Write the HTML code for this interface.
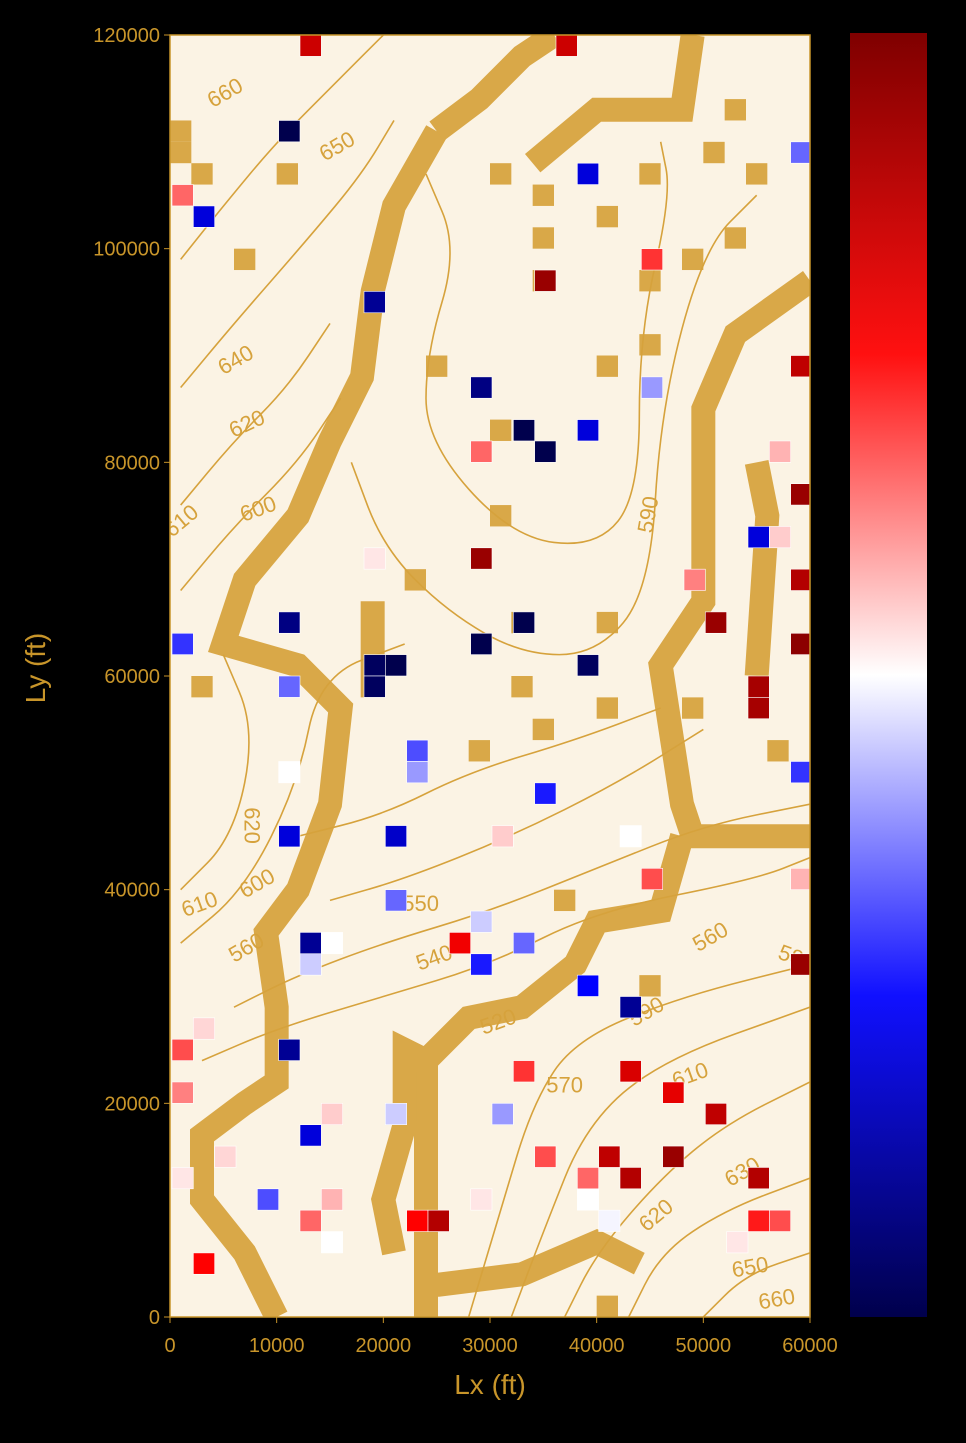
<!DOCTYPE html>
<html><head><meta charset="utf-8"><style>
html,body{margin:0;padding:0;background:#000;}
body{width:966px;height:1438px;overflow:hidden;font-family:"Liberation Sans",sans-serif;}
</style></head><body>
<svg id="chart" width="966" height="1438" xmlns="http://www.w3.org/2000/svg">
<defs>
<linearGradient id="cb" x1="0" y1="0" x2="0" y2="1">
<stop offset="0" stop-color="#7f0000"/><stop offset="0.25" stop-color="#ff1010"/>
<stop offset="0.5" stop-color="#ffffff"/><stop offset="0.75" stop-color="#1010ff"/>
<stop offset="1" stop-color="#00004c"/></linearGradient>
<clipPath id="plotclip"><rect x="170" y="35" width="640" height="1282"/></clipPath>
</defs>
<rect x="170" y="35" width="640" height="1282" fill="#fbf3e4"/>
<g id="mask" clip-path="url(#plotclip)"></g>
<g id="contours" clip-path="url(#plotclip)"></g>
<g id="cells" clip-path="url(#plotclip)"></g>
<rect x="170" y="35" width="640" height="1282" fill="none" stroke="#c8952a" stroke-width="1.5"/>
<g id="axes"></g>
<rect x="850" y="33" width="77" height="1284" fill="url(#cb)"/>
<text x="490" y="1394" fill="#c8952a" font-size="28" text-anchor="middle">Lx (ft)</text>
<text transform="translate(45,668) rotate(-90)" fill="#c8952a" font-size="28" text-anchor="middle">Ly (ft)</text>
</svg>
<script>
const cellX=[13000,37000,11000,59000,39000,1000,3000,45000,35000,19000,59000,29000,45000,33000,39000,35000,29000,57000,59000,55000,57000,19000,29000,49000,59000,11000,33000,51000,1000,29000,59000,19000,21000,39000,19000,11000,55000,55000,23000,23000,11000,59000,35000,11000,21000,31000,43000,45000,59000,21000,29000,27000,13000,15000,33000,13000,29000,59000,39000,43000,3000,1000,11000,33000,43000,47000,1000,51000,15000,21000,31000,13000,35000,41000,47000,5000,1000,39000,43000,55000,9000,15000,29000,39000,13000,23000,25000,41000,55000,57000,15000,53000,3000];
const cellY=[119000,119000,111000,109000,107000,105000,103000,99000,97000,95000,89000,87000,87000,83000,83000,81000,81000,81000,77000,73000,73000,71000,71000,69000,69000,65000,65000,65000,63000,63000,63000,61000,61000,61000,59000,59000,59000,57000,53000,51000,51000,51000,49000,45000,45000,45000,45000,41000,41000,39000,37000,35000,35000,35000,35000,33000,33000,33000,31000,29000,27000,25000,25000,23000,23000,21000,21000,19000,19000,19000,19000,17000,15000,15000,15000,15000,13000,13000,13000,13000,11000,11000,11000,11000,9000,9000,9000,9000,9000,9000,7000,7000,5000];
const cellV=[0.7,0.7,-1,-0.3,-0.6,0.3,-0.6,0.4,0.9,-0.8,0.75,-0.85,-0.2,-1,-0.6,-1,0.3,0.15,0.9,-0.6,0.1,0.05,0.9,0.25,0.8,-0.85,-1,0.9,-0.4,-1,0.95,-0.95,-1,-0.95,-0.95,-0.3,0.85,0.85,-0.35,-0.2,0,-0.4,-0.45,-0.6,-0.65,0.1,0,0.35,0.15,-0.3,-0.1,0.55,-0.8,0,-0.3,-0.1,-0.45,0.9,-0.5,-0.8,0.08,0.35,-0.8,0.4,0.65,0.6,0.25,0.75,0.1,-0.1,-0.2,-0.6,0.35,0.75,0.9,0.08,0.05,0.3,0.8,0.8,-0.35,0.15,0.05,0,0.3,0.5,0.8,-0.02,0.45,0.35,0,0.05,0.5];
const xTicks=[0,10000,20000,30000,40000,50000,60000];
const yTicks=[0,20000,40000,60000,80000,100000,120000];
// isolated tan mask cells (cell centres, ft)
const tanX=[1000,3000,7000,11000,31000,31000,23000,33000,29000,35000,41000,41000,45000,49000,53000,41000,45000,53000,51000,45000,55000,31000,35000,35000,35000,3000,1000,37000,45000,41000,33000,25000,41000,57000,49000];
const tanY=[109000,107000,99000,107000,83000,75000,69000,59000,53000,55000,65000,57000,97000,99000,101000,89000,91000,113000,109000,107000,107000,107000,105000,101000,97000,59000,111000,39000,31000,1000,65000,89000,103000,53000,57000];
// tan mask bands, [x ft, y ft] pairs
const bands=[
 [[25000,111000],[21000,104000],[19000,96000],[18000,88000],[15000,82000],[12000,75000],[7000,69000],[5000,63000],[12000,61000],[16000,57000],[15000,48000],[12000,40000],[9000,36000],[10000,29000],[10000,22000],[7000,20000],[3000,17000],[3000,11000],[7000,6000],[10000,0]],
 [[25000,111000],[29000,114000],[33000,118000],[36000,120000]],
 [[34000,108000],[40000,113000],[48000,113000],[49000,120000]],
 [[60000,97000],[53000,92000],[50000,85000],[50000,67000],[46000,61000],[48000,48000],[49000,45000],[60000,45000]],
 [[24000,0],[24000,24000],[28000,28000],[33000,29000],[38000,33000],[40000,37000],[46000,38000],[48000,45000]],
 [[21000,6000],[20000,11000],[22000,18000],[22000,25000],[24000,24000]],
 [[25000,3000],[33000,4000],[40000,7000],[44000,5000]],
 [[19000,58000],[19000,67000]],
 [[55000,60000],[56000,75000],[55000,80000]]
];
// contour lines
const contours=[
 [[1000,99000],[5000,104000],[10000,110000],[16000,116000],[20000,120000]],
 [[1000,87000],[6000,93000],[13000,101000],[18000,107000],[21000,112000]],
 [[1000,76000],[6000,82000],[11000,87000],[15000,93000]],
 [[1000,68000],[6000,74000],[12000,80000],[16000,86000]],
 [[24000,107000],[27000,100000],[24000,90000],[24000,82000],[32000,73000],[40000,72000],[44000,77000],[44000,92000],[47000,105000],[46000,110000]],
 [[17000,80000],[20000,72000],[26000,66000],[33000,62000],[40000,62000],[45000,68000],[46000,85000],[50000,100000],[55000,105000]],
 [[1000,40000],[6000,45000],[8000,55000],[5000,62000]],
 [[1000,35000],[7000,40000],[12000,50000],[14000,60000],[22000,63000]],
 [[6000,29000],[12000,32000],[20000,35000],[30000,38000],[40000,42000],[50000,46000],[60000,48000]],
 [[3000,24000],[10000,27000],[20000,30000],[30000,33000],[40000,38000],[55000,41000],[60000,43000]],
 [[15000,39000],[22000,41000],[32000,45000],[42000,50000],[50000,55000]],
 [[28000,0],[31000,10000],[34000,20000],[38000,26000],[48000,30000],[60000,33000]],
 [[32000,0],[35000,8000],[39000,18000],[46000,24000],[60000,29000]],
 [[37000,0],[40000,6000],[46000,13000],[52000,18000],[60000,22000]],
 [[43000,0],[46000,6000],[52000,10000],[60000,13000]],
 [[50000,0],[54000,4000],[60000,6000]],
 [[12000,45000],[20000,47000],[28000,51000],[38000,54000],[46000,57000]]
];
const labelText=["660","650","640","620","610","600","620","610","600","560","540","550","570","520","590","560","610","620","630","650","660","580","590"];
const labelX=[5500,16000,6500,7500,1500,8500,7000,3000,8500,7500,25000,23500,37000,31000,45000,51000,49000,46000,54000,54500,57000,58500,45500];
const labelY=[114000,109000,89000,83000,74000,75000,46000,38000,40000,34000,33000,38000,21000,27000,28000,35000,22000,9000,13000,4000,1000,33000,75000];
const labelR=[-30,-30,-30,-25,-40,-20,90,-20,-30,-30,-20,0,0,-20,-30,-30,-20,-40,-30,-10,-10,20,-80];
const NS='http://www.w3.org/2000/svg';
const X=v=>170+v/60000*640, Y=v=>1317-v/120000*1282;
function color(v){let r,g,b;
 if(v<=-0.5){const t=(v+1)/0.5;r=0;g=0;b=0.3+0.7*t;}
 else if(v<=0){const t=(v+0.5)/0.5;r=t;g=t;b=1;}
 else if(v<=0.5){const t=v/0.5;r=1;g=1-t;b=1-t;}
 else{const t=(v-0.5)/0.5;r=1-0.5*t;g=0;b=0;}
 return `rgb(${Math.round(r*255)},${Math.round(g*255)},${Math.round(b*255)})`;}
const w=640/30,h=1282/60;
const mask=document.getElementById('mask');
bands.forEach((b,i)=>{const p=document.createElementNS(NS,'polyline');
 p.setAttribute('points',b.map(q=>X(q[0])+','+Y(q[1])).join(' '));
 p.setAttribute('fill','none');p.setAttribute('stroke','#d9a848');p.setAttribute('stroke-width','24');p.setAttribute('stroke-linejoin','miter');
 
 
 mask.appendChild(p);});
tanX.forEach((x,i)=>{const r=document.createElementNS(NS,'rect');
 r.setAttribute('x',X(x)-w/2);r.setAttribute('y',Y(tanY[i])-h/2);r.setAttribute('width',w);r.setAttribute('height',h);r.setAttribute('fill','#d9a848');
 
 
 mask.appendChild(r);});
const cg=document.getElementById('contours');
function smooth(pts){let d='M'+pts[0][0]+','+pts[0][1];
 for(let i=1;i<pts.length;i++){const p0=pts[i-1],p1=pts[i];const mx=(p0[0]+p1[0])/2,my=(p0[1]+p1[1])/2;d+=' Q'+p0[0]+','+p0[1]+' '+mx+','+my;}
 const l=pts[pts.length-1];return d+' L'+l[0]+','+l[1];}
contours.forEach(c=>{const p=document.createElementNS(NS,'path');
 p.setAttribute('d',smooth(c.map(q=>[X(q[0]),Y(q[1])])));
 p.setAttribute('fill','none');p.setAttribute('stroke','#d6a23c');p.setAttribute('stroke-width','1.6');
 
 
 cg.appendChild(p);});
labelText.forEach((t,i)=>{const s=document.createElementNS(NS,'text');
 const x=X(labelX[i]),y=Y(labelY[i]);
 s.setAttribute('x',x);s.setAttribute('y',y);s.setAttribute('transform',`rotate(${labelR[i]} ${x} ${y})`);
 s.setAttribute('fill','#d6a23c');s.setAttribute('font-size','22');s.setAttribute('text-anchor','middle');s.textContent=t;
 
 
 cg.appendChild(s);});
const cells=document.getElementById('cells');
cellX.forEach((x,i)=>{const r=document.createElementNS(NS,'rect');
 r.setAttribute('x',X(x)-w/2+2);r.setAttribute('y',Y(cellY[i])-h/2);r.setAttribute('width',w);r.setAttribute('height',h);
 r.setAttribute('fill',color(cellV[i]));r.setAttribute('stroke','#fff');r.setAttribute('stroke-width','0.6');
 
 
 cells.appendChild(r);});
const ax=document.getElementById('axes');
xTicks.forEach(t=>{const l=document.createElementNS(NS,'line');l.setAttribute('x1',X(t));l.setAttribute('x2',X(t));l.setAttribute('y1',1317);l.setAttribute('y2',1323);l.setAttribute('stroke','#c8952a');ax.appendChild(l);
 const s=document.createElementNS(NS,'text');s.setAttribute('x',X(t));s.setAttribute('y',1352);s.setAttribute('fill','#c8952a');s.setAttribute('font-size','20');s.setAttribute('text-anchor','middle');s.textContent=t;
 
 
 ax.appendChild(s);});
yTicks.forEach(t=>{const l=document.createElementNS(NS,'line');l.setAttribute('x1',164);l.setAttribute('x2',170);l.setAttribute('y1',Y(t));l.setAttribute('y2',Y(t));l.setAttribute('stroke','#c8952a');ax.appendChild(l);
 const s=document.createElementNS(NS,'text');s.setAttribute('x',160);s.setAttribute('y',Y(t)+7);s.setAttribute('fill','#c8952a');s.setAttribute('font-size','20');s.setAttribute('text-anchor','end');s.textContent=t;
 
 
 ax.appendChild(s);});
</script>
</body></html>
